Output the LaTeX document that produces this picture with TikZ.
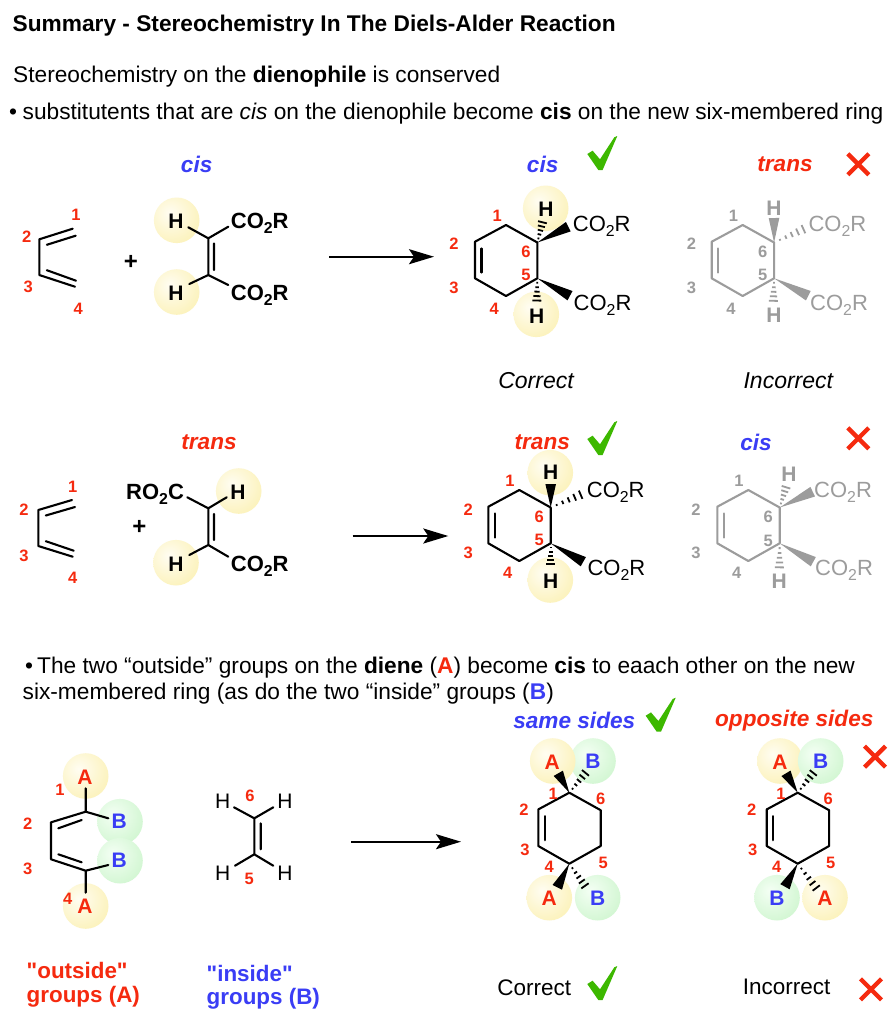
\documentclass[tikz,border=0pt]{standalone}
\usepackage{fontspec}
\usepackage{graphicx}
\setmainfont{Liberation Sans}
\newfontfamily\rawsans{Liberation Sans}
\usetikzlibrary{calc,arrows.meta}
\definecolor{numred}{HTML}{F52A0F}
\definecolor{labblue}{HTML}{3A3DF5}
\definecolor{tickgreen}{HTML}{3DB800}
\definecolor{molgrey}{HTML}{9C9C9C}
\definecolor{yA}{HTML}{FFFDF2}
\definecolor{yB}{HTML}{FCF3C0}
\definecolor{yC}{HTML}{F8EC9E}
\definecolor{gA}{HTML}{F4FFF4}
\definecolor{gB}{HTML}{D5F7D5}
\definecolor{gC}{HTML}{BFF0BF}
\pgfdeclareradialshading{haloY}{\pgfpoint{-8bp}{8bp}}{color(0bp)=(yA); color(30bp)=(yB); color(52bp)=(yC); color(100bp)=(yC)}
\pgfdeclareradialshading{haloG}{\pgfpoint{-8bp}{8bp}}{color(0bp)=(gA); color(30bp)=(gB); color(52bp)=(gC); color(100bp)=(gC)}
\newcommand\fs[1]{\fontsize{#1}{#1}\selectfont}
\newcommand\sbt{\raisebox{-.24em}{\scalebox{.72}{2}}}
\newcommand\cotwo{CO\sbt R}
\tikzset{
  x=1pt,y=-1pt,
  bond/.style={line width=2.1pt,line cap=round,line join=round},
  mainline/.style={anchor=base west,inner sep=0pt,font=\fs{22.7}},
  num/.style={inner sep=0pt,font=\bfseries\fs{16.5},text=numred},
  greynum/.style={inner sep=0pt,font=\bfseries\fs{16.5},text=molgrey},
  atom/.style={inner sep=0pt,font=\bfseries\fs{21}},
  thinatom/.style={inner sep=0pt,font=\fs{21}},
  ester/.style={anchor=base west,inner sep=0pt,font=\bfseries\fs{22}},
  prodester/.style={anchor=base west,inner sep=0pt,font=\fs{22}},
  itlab/.style={inner sep=0pt,font=\bfseries\itshape\fs{22.6}},
  verdict/.style={inner sep=0pt,font=\itshape\fs{23}},
  plainverdict/.style={inner sep=0pt,font=\fs{22.5}},
  grouplab/.style={inner sep=0pt,anchor=west,align=left,font=\rawsans\bfseries\fs{22.4}},
  reactarrow/.style={line width=2.3pt,-{Stealth[length=25pt,width=15pt,inset=5pt]}},
  tickmark/.pic={\fill[tickgreen] (-12,-16) -- (-6.7,-19.3) -- (0.7,-10.7) -- (15,-32.7) -- (18,-34) -- (3.3,0) -- (-1,0) -- cycle;},
  crossmark/.pic={\draw[numred,line width=4.3pt] (-10.5,-10.5) -- (10.5,10.5) (-10.5,10.5) -- (10.5,-10.5);}
}
\newcommand\halo[3]{\shade[shading=halo#1] (#2,#3) circle (22.8);}
% ring: name, x and y of the top atom C1, colour
\newcommand\ringmol[4]{%
  \coordinate (#1-1) at (#2,#3);
  \coordinate (#1-2) at ($(#1-1)+(-31,16.7)$);
  \coordinate (#1-3) at ($(#1-1)+(-31,53.3)$);
  \coordinate (#1-4) at ($(#1-1)+(0,71)$);
  \coordinate (#1-5) at ($(#1-1)+(31.4,53.3)$);
  \coordinate (#1-6) at ($(#1-1)+(31.4,17.5)$);
  \coordinate (#1-i) at ($(#1-1)+(-24.5,23.5)$);
  \coordinate (#1-j) at ($(#1-1)+(-24.5,47.5)$);
  \draw[bond,#4] (#1-1) -- (#1-2) -- (#1-3) -- (#1-4) -- (#1-5) -- (#1-6) -- cycle;
  \draw[bond,#4] (#1-i) -- (#1-j);}
% wedge: from atom to a free end, colour
\newcommand\wedgeb[3]{%
  \coordinate (wtip) at (#2);
  \fill[#3] (#1) -- ($(wtip)!5.3pt!90:(#1)$) -- ($(wtip)!5.3pt!-90:(#1)$) -- cycle;}
% hashed bond: from atom to a free end, colour
\newcommand\hashb[3]{%
  \coordinate (wtip) at (#2);
  \coordinate (wa) at ($(wtip)!5pt!90:(#1)$);
  \coordinate (wb) at ($(wtip)!5pt!-90:(#1)$);
  \foreach \t in {.18,.36,.54,.72,.9}{\draw[#3,line width=1.8pt] ($(#1)!\t!(wa)$) -- ($(#1)!\t!(wb)$);}}
% diene: name, four outer atoms, inner ends via offsets
\newcommand\dienemol[5]{%
  \coordinate (#1-1) at (#2);\coordinate (#1-2) at (#3);\coordinate (#1-3) at (#4);\coordinate (#1-4) at (#5);
  \draw[bond] (#1-1) -- (#1-2) -- (#1-3) -- (#1-4);
  \draw[bond] ($(#1-2)+(7.5,5.5)$) -- ($(#1-1)+(3,7)$);
  \draw[bond] ($(#1-3)+(7.5,-4.8)$) -- ($(#1-4)+(1,-6)$);}
\begin{document}
\begin{tikzpicture}
\useasboundingbox (0,0) rectangle (893,1013);
\fill[white] (0,0) rectangle (893,1013);

% ---------- heading text
\node[mainline,font=\bfseries\fs{22.7}] (title) at (12.5,31.5) {Summary - Stereochemistry In The Diels-Alder Reaction};
\node[mainline] (l1) at (13,82.5) {Stereochemistry on the \textbf{dienophile} is conserved};
\node[mainline] (l2b) at (9,119.5) {•};
\node[mainline] (l2) at (22.5,119.5) {substitutents that are \textit{cis} on the dienophile become \textbf{cis} on the new six-membered ring};
\node[mainline] (l3b) at (25,673.5) {•};
\node[mainline] (l3) at (37,673.5) {The two “outside” groups on the \textbf{diene} (\textcolor{numred}{\textbf{A}}) become \textbf{cis} to eaach other on the new};
\node[mainline] (l4) at (22.5,699.5) {six-membered ring (as do the two “inside” groups (\textcolor{labblue}{\textbf{B}})};

% ---------- halos
\halo{Y}{176.7}{220.3} \halo{Y}{176.7}{292}
\halo{Y}{545.7}{208.3} \halo{Y}{536.3}{314.3}
\halo{Y}{238.7}{491} \halo{Y}{176}{562.7}
\halo{Y}{550.3}{472.7} \halo{Y}{550.3}{580}
\halo{Y}{85.7}{776}
\halo{G}{120}{821.7} \halo{G}{120}{860.7}
\halo{Y}{85.7}{906}
\halo{G}{593}{761} \halo{Y}{552.7}{761}
\halo{Y}{549.3}{897.7} \halo{G}{597.7}{897.7}
\halo{Y}{780}{761} \halo{G}{820.7}{761}
\halo{G}{777}{897.7} \halo{Y}{825}{897.7}

% ---------- row 1, reactants
\node[itlab,text=labblue] (cisA) at (196.7,164.3) {cis};
\dienemol{dA}{72.7,228.7}{39.3,239.3}{39.3,275}{75,286.7}
\node[num] (dA1) at (76,215) {1};
\node[num] (dA2) at (26.7,236.7) {2};
\node[num] (dA3) at (28.3,287) {3};
\node[num] (dA4) at (78.3,309) {4};
\node[atom,font=\bfseries\fs{24}] (plusA) at (131,262) {+};
\coordinate (eA1) at (208.3,238.3);
\coordinate (eA2) at (208.3,275);
\coordinate (eA1i) at (214,243.3);
\coordinate (eA2i) at (214,270);
\coordinate (eAh1) at (188.3,227.3);
\coordinate (eAh2) at (189.3,284);
\coordinate (eAc1) at (228.3,226.7);
\coordinate (eAc2) at (228.3,285);
\draw[bond] (eAh1) -- (eA1) -- (eAc1) (eA1) -- (eA2) (eAh2) -- (eA2) -- (eAc2) (eA1i) -- (eA2i);
\node[atom] (hA1) at (176,221) {H};
\node[atom] (hA2) at (176,293) {H};
\node[ester] (cA1) at (230.7,228) {\cotwo};
\node[ester] (cA2) at (230.7,300) {\cotwo};
\coordinate (arA1) at (329.3,256.7);
\coordinate (arA2) at (434,256.7);
\draw[reactarrow] (arA1) -- (arA2);

% ---------- row 1, correct product
\node[itlab,text=labblue] (cisB) at (542.7,164.3) {cis};
\pic at (599.3,170) {tickmark};
\ringmol{rA}{506}{225}{black}
\wedgeb{rA-6}{568.3,226.7}{black}
\wedgeb{rA-5}{570,295.7}{black}
\hashb{rA-6}{543,220}{black}
\hashb{rA-5}{536.7,303}{black}
\node[atom] (hB1) at (546,209.3) {H};
\node[atom] (hB2) at (536.7,316) {H};
\node[prodester] (cB1) at (572.7,231) {\cotwo};
\node[prodester] (cB2) at (573.5,310) {\cotwo};
\node[num] (rA1n) at (497.3,216) {1};
\node[num] (rA2n) at (454,244) {2};
\node[num] (rA3n) at (454,288.3) {3};
\node[num] (rA4n) at (494.3,309) {4};
\node[num] (rA6n) at (526,251.7) {6};
\node[num] (rA5n) at (526,275) {5};
\node[verdict] (corrA) at (536,380.7) {Correct};

% ---------- row 1, incorrect product
\node[itlab,text=numred] (transA) at (785,164.3) {trans};
\pic at (858.3,164.3) {crossmark};
\ringmol{rB}{742.7}{225}{molgrey}
\wedgeb{rB-6}{774,218}{molgrey}
\wedgeb{rB-5}{808.3,295.7}{molgrey}
\hashb{rB-6}{806.7,227.7}{molgrey}
\hashb{rB-5}{773.3,303.3}{molgrey}
\node[atom,text=molgrey] (hC1) at (774,208) {H};
\node[atom,text=molgrey] (hC2) at (774,315.5) {H};
\node[prodester,text=molgrey] (cC1) at (808.3,231) {\cotwo};
\node[prodester,text=molgrey] (cC2) at (810,310) {\cotwo};
\node[greynum] (rB1n) at (733.5,216) {1};
\node[greynum] (rB2n) at (691.5,244) {2};
\node[greynum] (rB3n) at (691.5,288.3) {3};
\node[greynum] (rB4n) at (731,309) {4};
\node[greynum] (rB6n) at (762.7,251.7) {6};
\node[greynum] (rB5n) at (762.7,275) {5};
\node[verdict] (incA) at (788.3,380.7) {Incorrect};

% ---------- row 2, reactants
\node[itlab,text=numred] (transB) at (209,442.3) {trans};
\dienemol{dB}{72,500}{38.3,510}{38.3,546}{72.7,556.7}
\node[num] (dB1) at (72.7,487.3) {1};
\node[num] (dB2) at (24,510) {2};
\node[num] (dB3) at (24,556) {3};
\node[num] (dB4) at (72.7,578.3) {4};
\node[atom,font=\bfseries\fs{24}] (plusB) at (139.3,527) {+};
\coordinate (eB1) at (208.3,508.3);
\coordinate (eB2) at (208.3,545);
\coordinate (eB1i) at (214,514);
\coordinate (eB2i) at (214,540);
\coordinate (eBc1) at (187.3,497.3);
\coordinate (eBh1) at (226.7,497.3);
\coordinate (eBh2) at (189.3,555);
\coordinate (eBc2) at (228.3,556.7);
\draw[bond] (eBc1) -- (eB1) -- (eBh1) (eB1) -- (eB2) (eBh2) -- (eB2) -- (eBc2) (eB1i) -- (eB2i);
\node[ester] (cD1) at (126,499) {RO\sbt C};
\node[atom] (hD1) at (238,492) {H};
\node[atom] (hD2) at (176,564) {H};
\node[ester] (cD2) at (230.7,571) {\cotwo};
\coordinate (arB1) at (352.7,536);
\coordinate (arB2) at (448.3,536);
\draw[reactarrow] (arB1) -- (arB2);

% ---------- row 2, correct product
\node[itlab,text=numred] (transC) at (542.3,442.3) {trans};
\pic at (599.3,455) {tickmark};
\ringmol{rC}{519.3}{490}{black}
\wedgeb{rC-6}{550.7,484}{black}
\wedgeb{rC-5}{583.3,561.7}{black}
\hashb{rC-6}{584,493.3}{black}
\hashb{rC-5}{550.7,566.7}{black}
\node[atom] (hE1) at (550.7,472.7) {H};
\node[atom] (hE2) at (550.7,581.7) {H};
\node[prodester] (cE1) at (586.7,497) {\cotwo};
\node[prodester] (cE2) at (587.3,575) {\cotwo};
\node[num] (rC1n) at (510,481) {1};
\node[num] (rC2n) at (468.3,509.3) {2};
\node[num] (rC3n) at (468.3,553.3) {3};
\node[num] (rC4n) at (507.7,573.3) {4};
\node[num] (rC6n) at (539.3,516.7) {6};
\node[num] (rC5n) at (539.3,540) {5};

% ---------- row 2, incorrect product
\node[itlab,text=labblue] (cisC) at (756,442.3) {cis};
\pic at (858.3,438.3) {crossmark};
\ringmol{rD}{748.3}{490}{molgrey}
\wedgeb{rD-6}{812.7,491.7}{molgrey}
\wedgeb{rD-5}{813.3,561.7}{molgrey}
\hashb{rD-6}{786.7,485}{molgrey}
\hashb{rD-5}{779.3,570}{molgrey}
\node[atom,text=molgrey] (hF1) at (789,474) {H};
\node[atom,text=molgrey] (hF2) at (779.3,581.7) {H};
\node[prodester,text=molgrey] (cF1) at (814,497) {\cotwo};
\node[prodester,text=molgrey] (cF2) at (815,575) {\cotwo};
\node[greynum] (rD1n) at (739,481) {1};
\node[greynum] (rD2n) at (696,509.3) {2};
\node[greynum] (rD3n) at (696,553.3) {3};
\node[greynum] (rD4n) at (736.7,573.3) {4};
\node[greynum] (rD6n) at (768.3,516.7) {6};
\node[greynum] (rD5n) at (768.3,540.7) {5};

% ---------- row 3, diene
\coordinate (dCa1) at (85.7,788.3);
\coordinate (dCa4) at (85.7,892.7);
\coordinate (dCb1) at (108.3,818.3);
\coordinate (dCb4) at (108.3,865);
\coordinate (dC1) at (85.7,811.7);
\coordinate (dC2) at (51,822.3);
\coordinate (dC3) at (51,859.3);
\coordinate (dC4) at (85.7,870.7);
\coordinate (dCi1) at (58.3,828.3);
\coordinate (dCi2) at (81.7,820);
\coordinate (dCi3) at (58.3,854.3);
\coordinate (dCi4) at (81.7,862.3);
\draw[bond] (dCa1) -- (dC1) -- (dCb1) (dC1) -- (dC2) -- (dC3) -- (dC4) -- (dCb4) (dC4) -- (dCa4) (dCi1) -- (dCi2) (dCi3) -- (dCi4);
\node[atom,text=numred] (aG1) at (85,777.3) {A};
\node[atom,text=labblue] (bG1) at (119.3,821.7) {B};
\node[atom,text=labblue] (bG2) at (119.3,860.7) {B};
\node[atom,text=numred] (aG2) at (85,906.7) {A};
\node[num] (dC1n) at (60,790) {1};
\node[num] (dC2n) at (27.7,823.3) {2};
\node[num] (dC3n) at (27.7,869) {3};
\node[num] (dC4n) at (67.7,899.3) {4};
\node[grouplab,text=numred] (outsA) at (26.5,970.7) {"outside"};
\node[grouplab,text=numred] (outsB) at (26.5,996.7) {groups (A)};
\node[grouplab,text=labblue] (insA) at (206.5,973.3) {"inside"};
\node[grouplab,text=labblue] (insB) at (206.5,998.3) {groups (B)};

% ---------- row 3, ethene
\coordinate (hC1a) at (254.3,818.3);
\coordinate (hC2a) at (254.3,854.3);
\coordinate (hC1i) at (260.7,823.3);
\coordinate (hC2i) at (260.7,849.3);
\coordinate (hb1) at (234,807.3);
\coordinate (hb2) at (273.3,807.3);
\coordinate (hb3) at (235,865.7);
\coordinate (hb4) at (273.3,865.7);
\draw[bond] (hb1) -- (hC1a) -- (hb2) (hC1a) -- (hC2a) (hb3) -- (hC2a) -- (hb4) (hC1i) -- (hC2i);
\node[thinatom] (hG1) at (222.7,801) {H};
\node[thinatom] (hG2) at (285,801) {H};
\node[thinatom] (hG3) at (222.7,873.3) {H};
\node[thinatom] (hG4) at (285,873.3) {H};
\node[num] (hG6) at (250,795.7) {6};
\node[num] (hG5) at (249.3,879.3) {5};
\coordinate (arC1) at (351,841.7);
\coordinate (arC2) at (461,841.7);
\draw[reactarrow] (arC1) -- (arC2);

% ---------- row 3, correct product
\node[itlab,text=labblue] (same) at (574.3,720.7) {same sides};
\pic at (657.7,731.7) {tickmark};
\ringmol{rE}{569.3}{792.7}{black}
\wedgeb{rE-1}{558.3,773.3}{black}
\hashb{rE-1}{587.3,770.7}{black}
\wedgeb{rE-4}{557.3,887.3}{black}
\hashb{rE-4}{586.7,888.3}{black}
\node[atom,text=numred] (aH1) at (552.3,762) {A};
\node[atom,text=labblue] (bH1) at (593,761) {B};
\node[atom,text=numred] (aH2) at (549.3,898.5) {A};
\node[atom,text=labblue] (bH2) at (597.7,898.5) {B};
\node[num] (rE1n) at (553.3,794) {1};
\node[num] (rE2n) at (524,810) {2};
\node[num] (rE3n) at (525,850) {3};
\node[num] (rE4n) at (549.3,867.3) {4};
\node[num] (rE5n) at (603.3,862.7) {5};
\node[num] (rE6n) at (600.7,799) {6};
\node[plainverdict] (corrB) at (534.3,987.3) {Correct};
\pic at (599.3,1000) {tickmark};

% ---------- row 3, incorrect product
\node[itlab,text=numred] (opp) at (794.3,720.7) {opposite sides};
\pic at (875,756.7) {crossmark};
\ringmol{rF}{797.7}{792.7}{black}
\wedgeb{rF-1}{786,773.3}{black}
\hashb{rF-1}{815,770.7}{black}
\wedgeb{rF-4}{785,886.7}{black}
\hashb{rF-4}{818.3,890.7}{black}
\node[atom,text=numred] (aI1) at (780,762) {A};
\node[atom,text=labblue] (bI1) at (820.7,761) {B};
\node[atom,text=labblue] (bI2) at (777,898.5) {B};
\node[atom,text=numred] (aI2) at (825,898.5) {A};
\node[num] (rF1n) at (781,794) {1};
\node[num] (rF2n) at (751.7,810) {2};
\node[num] (rF3n) at (752.7,850) {3};
\node[num] (rF4n) at (776.7,867.3) {4};
\node[num] (rF5n) at (830.7,862.7) {5};
\node[num] (rF6n) at (828.3,799) {6};
\node[plainverdict] (incB) at (786.7,987.3) {Incorrect};
\pic at (871,989.3) {crossmark};
\end{tikzpicture}
\end{document}
